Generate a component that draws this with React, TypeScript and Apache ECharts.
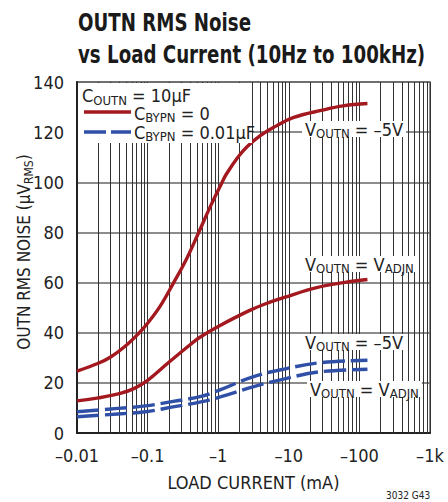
import React, { useEffect, useRef } from "react";
import * as echarts from "echarts";

const FONT = "'Liberation Sans Narrow', 'DejaVu Sans Condensed', 'Arial Narrow', 'Roboto Condensed', sans-serif";

// Load current (mA, magnitude) vs RMS noise (µVRMS)
const redNeg5X = [0.01, 0.02, 0.03, 0.05, 0.074, 0.1, 0.15, 0.23, 0.35, 0.52, 0.75, 1.12, 1.32, 2.27, 3.9, 6.7, 11.5, 30, 59, 130];
const redNeg5Y = [24.7, 27.8, 30.3, 35.0, 39.6, 43.8, 50.5, 59.6, 69, 79.5, 89.5, 99.6, 103.5, 112.6, 118.5, 122.5, 125.8, 128.8, 130.5, 131.4];

const redAdjX = [0.01, 0.02, 0.041, 0.065, 0.1, 0.2, 0.4, 0.55, 1.0, 2.8, 5.4, 8.4, 24.8, 60, 130];
const redAdjY = [12.8, 14, 15.8, 17.8, 21, 28.2, 35.2, 38.2, 42.5, 48.9, 52.2, 54, 58, 60, 61.2];

const blueNeg5X = [0.01, 0.038, 0.093, 0.23, 0.57, 1.06, 3.1, 9.3, 27, 130];
const blueNeg5Y = [8.5, 9.8, 10.8, 12.6, 14.6, 17.2, 22.4, 25.7, 28, 29];

const blueAdjX = [0.01, 0.038, 0.093, 0.24, 0.59, 1.1, 3.1, 9.3, 27, 130];
const blueAdjY = [6.5, 7.6, 8.5, 10.5, 12.5, 14.5, 18.4, 21.8, 24.4, 25.4];

const xTickLabels: Record<string, string> = {
  "0.01": "–0.01",
  "0.1": "–0.1",
  "1": "–1",
  "10": "–10",
  "100": "–100",
  "1000": "–1k",
};
const decades = [0.01, 0.1, 1, 10, 100];
const minorMultipliers = [2, 3, 4, 5, 6, 7, 8, 9];

const RED = "#a3191f";
const BLUE = "#3050a8";

const zip = (xs: number[], ys: number[]) => xs.map((x, i) => [x, ys[i]]);

const richBase = {
  n: { fontFamily: FONT, fontSize: 18, fill: "#222", color: "#222", lineHeight: 16 },
  s: { fontFamily: FONT, fontSize: 13, fill: "#222", color: "#222", lineHeight: 8, padding: [9, 0, 0, 0] },
};

export default function App() {
  const ref = useRef<HTMLDivElement>(null);
  useEffect(() => {
    if (!ref.current) return;
    const chart = echarts.init(ref.current, null, { renderer: "svg" });
    const minorLines: number[] = [];
    decades.forEach((d) => minorMultipliers.forEach((m) => minorLines.push(+(d * m).toPrecision(3))));

    const label = (x: number, y: number, text: string, bg = "#fff") => ({
      type: "text",
      x,
      y,
      z: 100,
      style: {
        text,
        rich: richBase,
        backgroundColor: bg,
        padding: [0, 3, 0, 3],
        verticalAlign: "middle",
      },
    });

    const curve = (xs: number[], ys: number[], color: string, dashed: boolean) => ({
      type: "line",
      data: zip(xs, ys),
      smooth: 0.4,
      showSymbol: false,
      lineStyle: dashed ? { color, width: 3.4, type: [22, 6] } : { color, width: 3.4 },
      z: 5,
    });

    chart.setOption({
      animation: false,
      backgroundColor: "#fff",
      grid: {
        left: 77,
        top: 82,
        right: 18,
        bottom: 69,
        show: true,
        borderColor: "#666",
        borderWidth: 1.5,
        backgroundColor: "#fff",
      },
      xAxis: {
        type: "log",
        logBase: 10,
        min: 0.01,
        max: 1000,
        splitNumber: 5,
        axisLine: { show: true, onZero: false, lineStyle: { color: "#222", width: 2 } },
        axisTick: { show: false },
        splitLine: { show: true, lineStyle: { color: "#333", width: 1 } },
        axisLabel: {
          fontFamily: FONT,
          fontSize: 18,
          color: "#222",
          margin: 13,
          formatter: (v: number) => xTickLabels[String(+v.toPrecision(3))] ?? "",
        },
        name: "LOAD CURRENT (mA)",
        nameLocation: "middle",
        nameGap: 40,
        nameTextStyle: { fontFamily: FONT, fontSize: 18, color: "#222" },
      },
      yAxis: {
        type: "value",
        min: 0,
        max: 140,
        interval: 20,
        axisLine: { show: true, lineStyle: { color: "#222", width: 2 } },
        axisTick: { show: false },
        splitLine: { show: true, lineStyle: { color: "#666", width: 1.5 } },
        axisLabel: { fontFamily: FONT, fontSize: 18, color: "#222", margin: 13 },
      },
      series: [
        {
          type: "line",
          data: [],
          silent: true,
          markLine: {
            silent: true,
            symbol: ["none", "none"],
            label: { show: false },
            lineStyle: { color: "#333", width: 1, type: "solid" },
            data: minorLines.map((v) => ({ xAxis: v })),
          },
          z: 1,
        },
        curve(redNeg5X, redNeg5Y, RED, false),
        curve(redAdjX, redAdjY, RED, false),
        curve(blueNeg5X, blueNeg5Y, BLUE, true),
        curve(blueAdjX, blueAdjY, BLUE, true),
      ],
      graphic: [
        {
          type: "text",
          x: 78,
          y: 6,
          scaleX: 0.81,
          style: {
            text: "OUTN RMS Noise\nvs Load Current (10Hz to 100kHz)",
            font: `bold 25px ${FONT}`,
            fill: "#1a1a1a",
            lineHeight: 32,
          },
        },
        {
          type: "text",
          x: 24,
          y: 252,
          rotation: Math.PI / 2,
          style: {
            text: "{n|OUTN RMS NOISE (μV}{s|RMS}{n|)}",
            rich: {
              n: { fontFamily: FONT, fontSize: 17, fill: "#222", lineHeight: 16 },
              s: { fontFamily: FONT, fontSize: 12, fill: "#222", lineHeight: 10, padding: [10, 0, 0, 0] },
            },
            align: "center",
            verticalAlign: "middle",
          },
        },
        {
          type: "rect",
          z: 90,
          shape: { x: 78, y: 83, width: 174, height: 60 },
          style: { fill: "#fff" },
        },
        label(79, 95.5, "{n|C}{s|OUTN}{n| = 10μF}", "transparent"),
        {
          type: "line",
          z: 100,
          shape: { x1: 84, y1: 112, x2: 131, y2: 112 },
          style: { stroke: RED, lineWidth: 3.4 },
        },
        label(131, 113, "{n|C}{s|BYPN}{n| = 0}", "transparent"),
        {
          type: "line",
          z: 100,
          shape: { x1: 84, y1: 132, x2: 131, y2: 132 },
          style: { stroke: BLUE, lineWidth: 3.4, lineDash: [22, 5] },
        },
        label(131, 132, "{n|C}{s|BYPN}{n| = 0.01μF}", "transparent"),
        label(302, 129, "{n|V}{s|OUTN}{n| = –5V}"),
        label(302, 264, "{n|V}{s|OUTN}{n| = V}{s|ADJN}"),
        label(302, 342, "{n|V}{s|OUTN}{n| = –5V}"),
        label(307, 389, "{n|V}{s|OUTN}{n| = V}{s|ADJN}"),
        {
          type: "text",
          x: 386,
          y: 495,
          style: {
            text: "3032 G43",
            font: `10px ${FONT}`,
            fill: "#222",
            verticalAlign: "middle",
          },
        },
      ],
    });
    return () => chart.dispose();
  }, []);
  return <div ref={ref} style={{ width: 448, height: 502, position: "absolute", left: 0, top: 0 }} />;
}
